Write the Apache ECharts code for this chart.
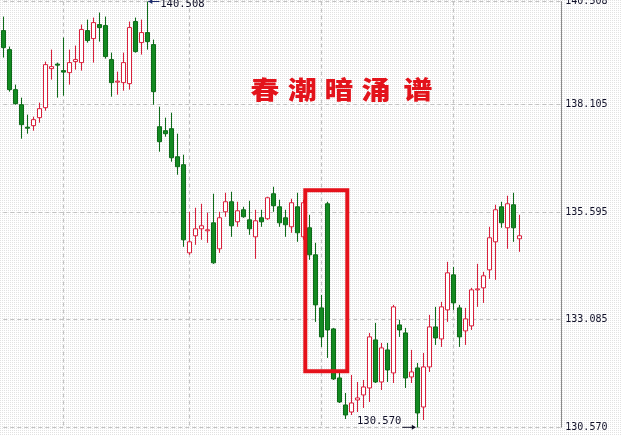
<!DOCTYPE html>
<html><head><meta charset="utf-8">
<script src="https://cdn.jsdelivr.net/npm/echarts@6/dist/echarts.min.js"></script>
<style>html,body{margin:0;padding:0;background:#fff}#c{width:622px;height:435px}</style>
</head><body><div id="c"></div>
<script>
// ---- data ----
const categories = Array.from({length: 94}, (_, i) => String(i + 1));
const opens = [
139.829,139.385,138.451,138.100,137.575,137.610,137.797,138.030,138.941,139.047,
138.895,138.848,139.105,139.082,139.829,139.642,139.970,139.946,139.152,138.626,
138.614,138.591,140.040,139.549,139.783,139.502,137.586,137.493,137.540,136.885,
136.699,134.642,135.040,135.203,135.156,135.343,134.736,135.600,135.834,135.367,
135.647,135.413,135.016,135.460,135.437,136.021,135.717,135.460,135.250,135.717,
135.016,135.227,134.596,133.357,135.787,132.867,131.722,131.091,130.927,131.208,
131.325,131.488,132.610,131.628,132.376,131.839,132.960,132.773,131.745,131.956,
131.044,131.979,132.913,132.633,133.311,134.128,133.357,132.820,132.937,133.778,
133.825,134.245,134.899,135.717,135.227,135.764,134.970];
const closes = [
139.432,138.451,138.124,137.633,137.551,137.750,138.007,139.035,138.988,139.023,
138.860,139.082,139.152,139.853,139.596,140.016,139.899,139.222,138.614,138.649,
139.082,139.899,139.339,139.783,139.572,138.404,137.236,137.423,136.862,136.652,
134.946,134.899,135.203,135.273,135.180,134.409,135.460,135.834,135.273,135.624,
135.484,135.203,135.390,135.367,135.927,135.741,135.343,135.297,135.811,135.110,
135.811,134.596,133.427,132.680,132.843,131.699,131.161,130.857,131.138,131.255,
131.512,132.680,131.628,132.423,131.909,133.381,132.843,131.722,131.862,130.904,
131.979,132.913,132.656,133.381,134.175,133.474,132.680,133.100,133.778,133.801,
134.105,134.993,135.647,135.343,135.787,135.227,135.040];
const lows = [
139.199,138.404,138.100,137.306,137.423,137.493,137.680,137.960,138.685,138.264,
138.311,138.568,138.918,138.895,139.549,139.082,139.572,139.175,138.287,138.334,
138.427,138.451,139.315,139.269,139.385,138.100,137.002,137.353,136.769,136.465,
134.783,134.596,134.829,134.946,134.876,134.385,134.642,135.484,135.016,135.250,
135.460,135.063,134.502,135.250,135.413,135.600,135.250,135.016,135.110,134.899,
134.946,134.479,133.030,132.446,132.189,131.675,131.138,130.764,130.857,130.927,
131.021,131.161,131.605,131.441,131.628,131.605,132.680,131.488,131.605,130.570,
130.741,131.862,132.493,132.446,133.030,133.311,132.446,132.493,132.843,133.381,
133.474,134.035,134.012,135.227,134.736,134.899,134.666];
const highs = [
140.156,139.456,138.568,138.264,137.867,137.820,138.147,139.105,139.385,139.082,
139.666,139.385,139.479,139.970,140.086,140.133,140.250,140.156,139.315,138.871,
139.315,140.040,140.133,140.086,140.508,139.619,138.054,137.797,137.913,137.423,
136.932,135.600,135.694,135.787,135.577,136.021,135.600,136.044,136.068,135.834,
135.717,135.857,135.647,135.647,135.951,136.184,135.881,135.647,135.904,136.044,
135.881,135.530,134.876,133.661,135.834,132.890,131.909,131.371,131.792,131.628,
131.675,132.773,133.007,132.540,132.540,133.427,133.077,132.890,132.376,132.072,
132.306,133.194,133.381,133.498,134.432,134.315,133.427,133.357,133.825,134.385,
134.199,135.250,135.764,135.834,135.974,136.044,135.530];
const yTicks = [130.570, 133.085, 135.595, 138.105, 140.508];
const yMin = 130.570, yMax = 140.508;
const vGridIdx = [10, 31, 53, 75];
const titleChars = ['春', '潮', '暗', '涌', '谱'];
const highLabel = '140.508', lowLabel = '130.570';
const boxFrom = 50, boxTo = 57, boxTop = 136.10, boxBottom = 131.88;

// ---- build ----
const candleData = opens.map((o, i) => [o, closes[i], lows[i], highs[i]]);

const pat = document.createElement('canvas');
pat.width = 2; pat.height = 2;
const pctx = pat.getContext('2d');
pctx.fillStyle = '#ffffff'; pctx.fillRect(0, 0, 2, 2);
pctx.fillStyle = '#e2e2e2'; pctx.fillRect(0, 0, 1, 1);

const chart = echarts.init(document.getElementById('c'), null, {renderer: 'canvas'});
const option = {
  animation: false,
  backgroundColor: {image: pat, repeat: 'repeat'},
  grid: {left: 3.3, right: 60.7, top: 1.5, bottom: 7.7, containLabel: false, outerBoundsMode: 'none'},
  xAxis: {
    type: 'category', data: categories, boundaryGap: false,
    axisLine: {show: false}, axisTick: {show: false}, axisLabel: {show: false},
    splitLine: {show: true, interval: (i) => vGridIdx.includes(i), lineStyle: {color: '#c2c2c2', type: [4, 3], width: 1}}
  },
  yAxis: {
    type: 'value', position: 'right', min: yMin, max: yMax, scale: true,
    axisLine: {show: true, lineStyle: {color: '#8a8a8a', width: 1}},
    axisTick: {show: false, customValues: yTicks},
    axisLabel: {customValues: yTicks, formatter: (v) => Number(v).toFixed(3), fontFamily: 'DejaVu Sans Mono', fontSize: 10, color: '#101028', margin: 4, showMinLabel: true, showMaxLabel: true},
    splitLine: {show: true, lineStyle: {color: '#c2c2c2', type: [4, 3], width: 1}}
  },
  series: [{
    type: 'candlestick', data: candleData, barWidth: 5, clip: false,
    itemStyle: {color: '#ffffff', color0: '#138a22', borderColor: '#d91f3b', borderColor0: '#0d6b18', borderWidth: 1}
  }]
};
chart.setOption(option);

const px = (i, v) => chart.convertToPixel({gridIndex: 0}, [i, v]);
const graphics = [];
// red box
const tl = px(boxFrom, boxTop), br = px(boxTo, boxBottom);
graphics.push({type: 'rect', shape: {x: tl[0] + 2, y: tl[1], width: br[0] - tl[0], height: br[1] - tl[1]},
  style: {fill: 'none', stroke: '#e5121b', lineWidth: 4}, z: 10});
// high annotation
const hiIdx = highs.indexOf(Math.max(...highs));
const hp = px(hiIdx, highs[hiIdx]);
graphics.push({type: 'line', shape: {x1: hp[0] + 1, y1: hp[1], x2: hp[0] + 12, y2: hp[1]}, style: {stroke: '#1b2a6b', lineWidth: 1}, z: 10});
graphics.push({type: 'polygon', shape: {points: [[hp[0] + 1, hp[1]], [hp[0] + 5, hp[1] - 2.5], [hp[0] + 5, hp[1] + 2.5]]}, style: {fill: '#1b2a6b'}, z: 10});
graphics.push({type: 'text', x: hp[0] + 13, y: hp[1] + 3, style: {text: highLabel, font: '10.5px "DejaVu Sans Mono"', fill: '#101028', verticalAlign: 'middle', align: 'left'}, z: 10});
// low annotation
const loIdx = lows.indexOf(Math.min(...lows));
const lp = px(loIdx, lows[loIdx]);
graphics.push({type: 'line', shape: {x1: lp[0] - 15, y1: lp[1], x2: lp[0] - 2, y2: lp[1]}, style: {stroke: '#101028', lineWidth: 1}, z: 10});
graphics.push({type: 'polygon', shape: {points: [[lp[0] - 1.5, lp[1]], [lp[0] - 5.5, lp[1] - 2.5], [lp[0] - 5.5, lp[1] + 2.5]]}, style: {fill: '#101028'}, z: 10});
graphics.push({type: 'text', x: lp[0] - 16, y: lp[1] - 6, style: {text: lowLabel, font: '10.5px "DejaVu Sans Mono"', fill: '#101028', verticalAlign: 'middle', align: 'right'}, z: 10});
// title characters
const titleX = [265, 302.5, 339, 376, 418];
titleChars.forEach((ch, k) => {
  graphics.push({type: 'text', x: titleX[k], y: 89, scaleX: 1.15,
    style: {text: ch, font: '900 25px "Noto Sans CJK SC"', fill: '#e3131b', align: 'center', verticalAlign: 'middle'}, z: 10});
});
chart.setOption({graphic: graphics});
</script>
</body></html>
